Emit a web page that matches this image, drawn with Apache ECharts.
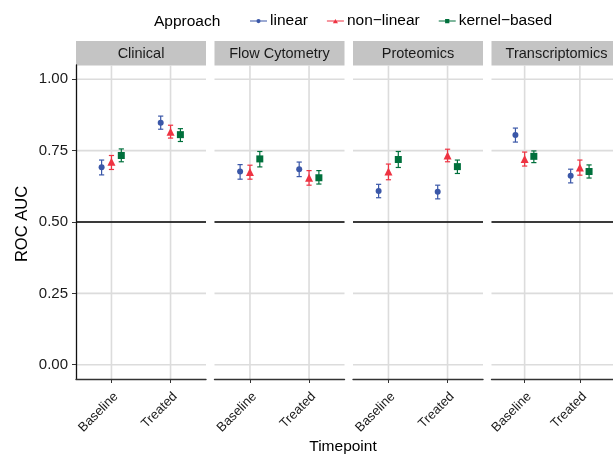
<!DOCTYPE html>
<html>
<head>
<meta charset="utf-8">
<script src="https://cdn.jsdelivr.net/npm/echarts@6/dist/echarts.min.js"></script>
<style>html,body{margin:0;padding:0;background:#fff}#c{width:613px;height:455px}</style>
</head>
<body>
<div id="c"></div>
<script>
// ---- data ----
const facets = ['Clinical', 'Flow Cytometry', 'Proteomics', 'Transcriptomics'];
const timepoints = ['Baseline', 'Treated'];
const approaches = ['linear', 'non\u2212linear', 'kernel\u2212based'];
const yTicks = [0, 0.25, 0.5, 0.75, 1.0];
const refLine = 0.5;
// values ordered: [Clinical B, Clinical T, Flow B, Flow T, Prot B, Prot T, Trans B, Trans T]
const linearMean = [0.692, 0.848, 0.677, 0.685, 0.609, 0.606, 0.805, 0.662];
const linearLo   = [0.665, 0.825, 0.650, 0.659, 0.585, 0.581, 0.780, 0.637];
const linearHi   = [0.717, 0.871, 0.701, 0.710, 0.632, 0.629, 0.829, 0.685];
const nonlinMean = [0.711, 0.816, 0.675, 0.655, 0.677, 0.733, 0.721, 0.691];
const nonlinLo   = [0.684, 0.794, 0.650, 0.629, 0.648, 0.711, 0.696, 0.664];
const nonlinHi   = [0.733, 0.839, 0.699, 0.680, 0.703, 0.755, 0.745, 0.717];
const kernelMean = [0.733, 0.806, 0.721, 0.655, 0.719, 0.694, 0.730, 0.677];
const kernelLo   = [0.711, 0.782, 0.693, 0.633, 0.691, 0.670, 0.708, 0.654];
const kernelHi   = [0.756, 0.827, 0.747, 0.680, 0.747, 0.717, 0.749, 0.700];

const means = [linearMean, nonlinMean, kernelMean];
const los = [linearLo, nonlinLo, kernelLo];
const his = [linearHi, nonlinHi, kernelHi];

// ---- style ----
const FONT = 'Liberation Sans, Arial, sans-serif';
const colors = ['#3A57A8', '#EE3342', '#00703C'];
const symbols = ['circle', 'triangle', 'rect'];
const symbolSizes = [6, 8, 7];
const legendIcons = [
  'path://M0,3.4H20V4.6H0Z M10,1.5A2.5,2.5,0,1,1,10,6.5A2.5,2.5,0,1,1,10,1.5Z',
  'path://M0,3.4H20V4.6H0Z M10,1.5L13,6.5H7Z',
  'path://M0,3.4H20V4.6H0Z M7.5,1.5H12.5V6.5H7.5Z'
];
const panelLeft = 76, panelStep = 138.5, panelW = 130, plotTop = 65, plotH = 314;
const stripTop = 41, stripH = 24.5;
const dodge = 0.5;

const grids = [], xAxes = [], yAxes = [], series = [], graphics = [];
const xPos = timepoints.map((t, i) => i + 1);

facets.forEach((f, fi) => {
  const left = panelLeft + fi * panelStep;
  grids.push({ left: left, top: plotTop, width: panelW, height: plotH, containLabel: false });
  xAxes.push({
    type: 'value', gridIndex: fi, min: 0.4, max: 2.6,
    axisLine: { show: true, onZero: false, lineStyle: { color: '#333', width: 1.4 } },
    axisTick: { show: true, customValues: xPos, length: 4, lineStyle: { color: '#333', width: 1 } },
    axisLabel: { show: true, customValues: xPos, rotate: 45, margin: 11, color: '#1a1a1a',
      verticalAlign: 'top', align: 'right',
      fontFamily: FONT, fontSize: 13, formatter: v => timepoints[Math.round(v) - 1] || '' },
    splitLine: { show: false }
  });
  yAxes.push({
    type: 'value', gridIndex: fi, min: -0.05, max: 1.05,
    axisLine: { show: fi === 0, onZero: false, lineStyle: { color: '#111', width: 1.3 } },
    axisTick: { show: fi === 0, customValues: yTicks, length: 4, lineStyle: { color: '#333' } },
    axisLabel: { show: fi === 0, customValues: yTicks, margin: 8, color: '#1a1a1a',
      fontFamily: FONT, fontSize: 15, formatter: v => v.toFixed(2) },
    splitLine: { show: false }
  });
  // grid lines (drawn via custom series using axis scales)
  series.push({
    type: 'custom', xAxisIndex: fi, yAxisIndex: fi, silent: true, z: 0,
    data: [0],
    renderItem: (params, api) => {
      const children = [];
      const x0 = api.coord([0.4, 0])[0], x1 = api.coord([2.6, 0])[0];
      const y0 = api.coord([0, -0.05])[1], y1 = api.coord([0, 1.05])[1];
      yTicks.forEach(v => {
        const y = api.coord([1, v])[1];
        children.push({ type: 'line', shape: { x1: x0, y1: y, x2: x1, y2: y },
          style: { stroke: '#dcdcdc', lineWidth: 1.6 } });
      });
      xPos.forEach(v => {
        const x = api.coord([v, 0])[0];
        children.push({ type: 'line', shape: { x1: x, y1: y0, x2: x, y2: y1 },
          style: { stroke: '#dcdcdc', lineWidth: 1.6 } });
      });
      const yr = api.coord([1, refLine])[1];
      children.push({ type: 'line', shape: { x1: x0, y1: yr, x2: x1, y2: yr },
        style: { stroke: '#000', lineWidth: 1.4 } });
      return { type: 'group', children: children };
    }
  });
  approaches.forEach((a, ai) => {
    const off = (ai - 1) * dodge / 3;
    const pts = [], errs = [];
    timepoints.forEach((t, ti) => {
      const k = fi * 2 + ti;
      pts.push([xPos[ti] + off, means[ai][k]]);
      errs.push([xPos[ti] + off, los[ai][k], his[ai][k]]);
    });
    series.push({
      type: 'custom', name: a, xAxisIndex: fi, yAxisIndex: fi, z: 3, silent: true,
      data: errs,
      renderItem: (params, api) => {
        const lo = api.coord([api.value(0), api.value(1)]);
        const hi = api.coord([api.value(0), api.value(2)]);
        const c = colors[ai], w = 2.6;
        return { type: 'group', children: [
          { type: 'line', shape: { x1: lo[0], y1: lo[1], x2: hi[0], y2: hi[1] }, style: { stroke: c, lineWidth: 1.2 } },
          { type: 'line', shape: { x1: lo[0] - w, y1: lo[1], x2: lo[0] + w, y2: lo[1] }, style: { stroke: c, lineWidth: 1.2 } },
          { type: 'line', shape: { x1: hi[0] - w, y1: hi[1], x2: hi[0] + w, y2: hi[1] }, style: { stroke: c, lineWidth: 1.2 } }
        ] };
      }
    });
    series.push({
      type: 'scatter', name: a, xAxisIndex: fi, yAxisIndex: fi, z: 4, silent: true,
      symbol: symbols[ai], symbolSize: symbolSizes[ai],
      itemStyle: { color: colors[ai], opacity: 1 },
      data: pts
    });
  });
  // strip
  graphics.push({ type: 'rect', left: left, top: stripTop, silent: true,
    shape: { width: panelW, height: stripH }, style: { fill: '#c4c4c4' } });
  graphics.push({ type: 'text', x: left + panelW / 2, y: stripTop + stripH / 2 + 0.5, silent: true,
    style: { text: f, fill: '#1a1a1a', font: '14.5px ' + FONT, textAlign: 'center', textVerticalAlign: 'middle' } });
});

graphics.push({ type: 'text', x: 22, y: 224, rotation: Math.PI / 2, silent: true,
  style: { text: 'ROC AUC', fill: '#000', font: '16.5px ' + FONT, textAlign: 'center', textVerticalAlign: 'middle' } });
graphics.push({ type: 'text', x: 343, y: 447, silent: true,
  style: { text: 'Timepoint', fill: '#000', font: '15.5px ' + FONT, textAlign: 'center', textVerticalAlign: 'middle' } });
graphics.push({ type: 'text', x: 154, y: 21.5, silent: true,
  style: { text: 'Approach', fill: '#000', font: '15.5px ' + FONT, textAlign: 'left', textVerticalAlign: 'middle' } });

const chart = echarts.init(document.getElementById('c'), null, { renderer: 'canvas' });
chart.setOption({
  animation: false,
  backgroundColor: '#fff',
  color: colors,
  grid: grids,
  xAxis: xAxes,
  yAxis: yAxes,
  legend: {
    left: 245, top: 8, itemGap: 19, itemWidth: 17, itemHeight: 6,
    textStyle: { fontFamily: FONT, fontSize: 15.5, color: '#000', padding: [0, 0, 0, -2] },
    selectedMode: false,
    data: approaches.map((a, ai) => ({ name: a, icon: legendIcons[ai], itemStyle: { color: colors[ai] } }))
  },
  graphic: graphics,
  series: series
});
</script>
</body>
</html>
